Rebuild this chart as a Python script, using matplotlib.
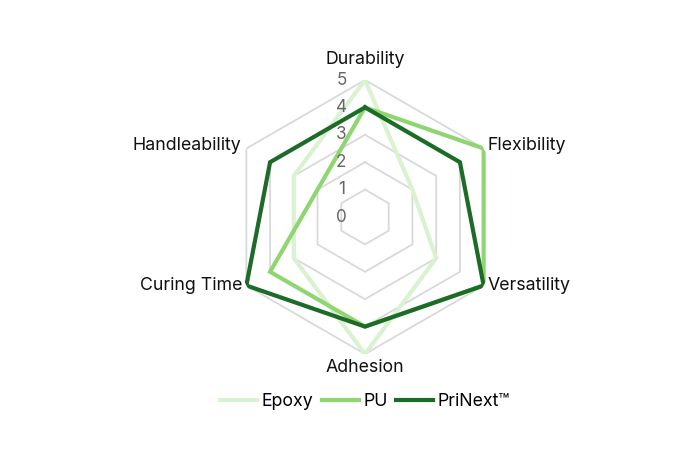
import numpy as np
import matplotlib
matplotlib.use("Agg")
import matplotlib.pyplot as plt

categories = ["Durability", "Flexibility", "Versatility", "Adhesion", "Curing Time", "Handleability"]
epoxy = [5, 2, 3, 5, 3, 3]
pu = [4, 5, 5, 4, 4, 2]
prinext = [4, 4, 5, 4, 5, 4]
series_names = ["Epoxy", "PU", "PriNext™"]
tick_values = [0, 1, 2, 3, 4, 5]

colors = ["#d9f2cf", "#8fd672", "#1c6b26"]

plt.rcParams['font.family'] = ['Inter', 'DejaVu Sans']

fig = plt.figure(figsize=(7, 4.67), dpi=100)
W, H = 700, 467
cx, cy, R = 365, 217, 137
ax = fig.add_axes([(cx - R) / W, (H - cy - R) / H, 2 * R / W, 2 * R / H], projection='polar')
ax.set_theta_offset(np.pi / 2)
ax.set_theta_direction(-1)
ax.set_ylim(0, 5)
ax.axis('off')

n = len(categories)
theta = np.arange(n) * 2 * np.pi / n
theta_closed = np.append(theta, theta[0])

# hexagonal grid rings
for v in tick_values[1:]:
    ax.plot(theta_closed, [v] * (n + 1), color="#d9d9d9", lw=1.3, zorder=1)

for vals, name, col in zip([epoxy, pu, prinext], series_names, colors):
    ax.plot(theta_closed, list(vals) + [vals[0]], color=col, lw=3, label=name,
            zorder=2, solid_joinstyle='miter')

# tick labels
for v in tick_values:
    ax.annotate(str(v), xy=(0, v), xytext=(-17, 0), textcoords='offset points',
                ha='center', va='center', fontsize=12.3, color="#666666", zorder=3)

# category labels
offsets = [((0, 15), 'center', 'center'),
           ((2.5, 2), 'left', 'center'),
           ((2.5, 0), 'left', 'center'),
           ((0, -10), 'center', 'center'),
           ((-3, 0), 'right', 'center'),
           ((-4, 2), 'right', 'center')]
for t, lab, (off, ha, va) in zip(theta, categories, offsets):
    ax.annotate(lab, xy=(t, 5), xytext=off, textcoords='offset points',
                ha=ha, va=va, fontsize=12.8, color="#111111", annotation_clip=False)

fig.legend(loc='center', bbox_to_anchor=(cx / W, 1 - 402 / H), ncol=3, frameon=False,
           fontsize=12.8, handlelength=2.1, handletextpad=0.25, columnspacing=0.45)

fig.savefig("out.png", dpi=100)
